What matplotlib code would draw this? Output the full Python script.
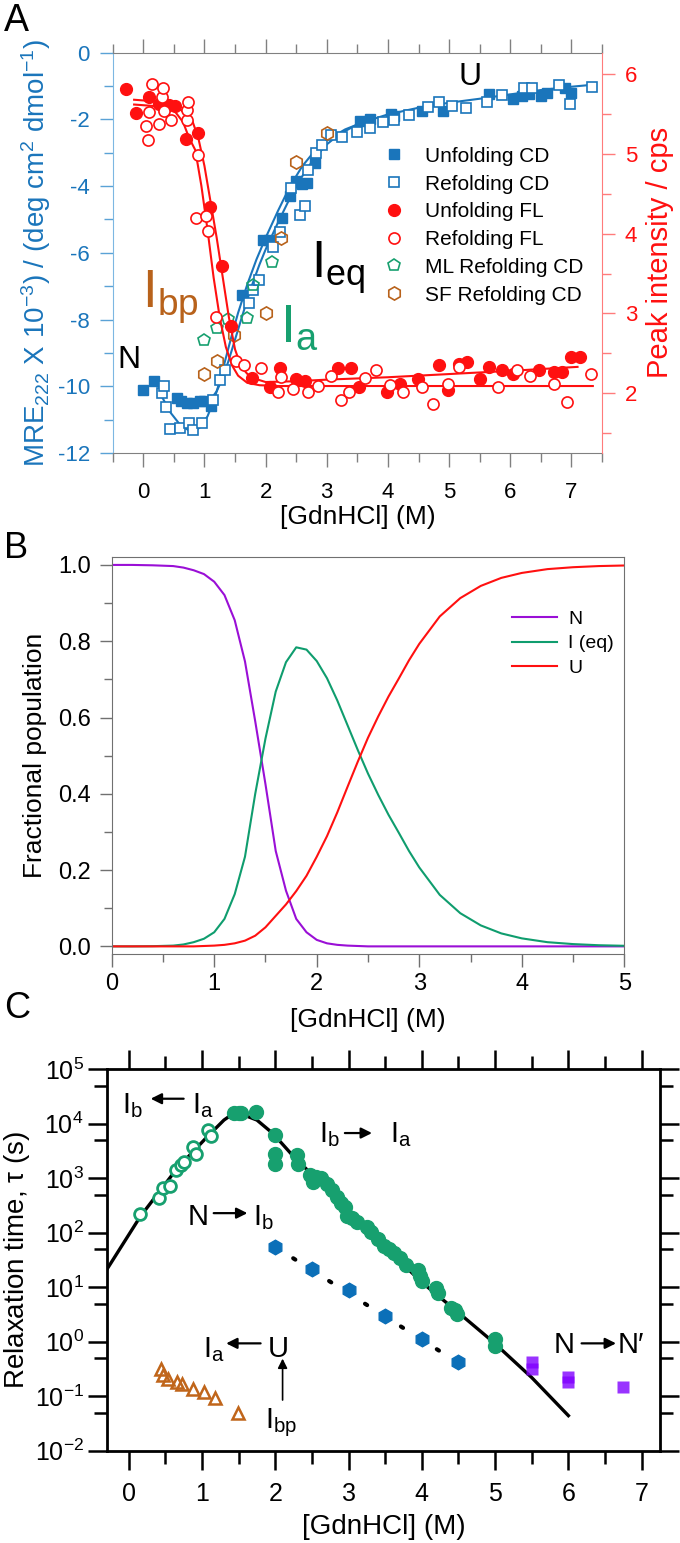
import matplotlib
matplotlib.use('Agg')
import matplotlib.pyplot as plt
from matplotlib.ticker import MultipleLocator, LogLocator, NullFormatter

plt.rcParams['font.family'] = ['Liberation Sans', 'DejaVu Sans']
plt.rcParams['mathtext.fontset'] = 'custom'
plt.rcParams['mathtext.rm'] = 'Liberation Sans'
plt.rcParams['mathtext.it'] = 'Liberation Sans:italic'

BLUE = '#1a75bb'
RED = '#ff1010'
GREEN = '#17a06f'
BROWN = '#b8621b'
NARROW = ['Liberation Sans Narrow', 'Liberation Sans', 'DejaVu Sans']

# ---------------- panel A data ----------------
unf_cd_x = [0.0, 0.17, 0.55, 0.62, 0.72, 0.82, 0.92, 1.0, 1.1, 1.62, 1.95, 2.05, 2.26,
            2.4, 2.5, 2.6, 2.67, 2.8, 3.55, 3.7, 4.05, 4.1, 4.55, 4.9, 5.65, 6.05, 6.2,
            6.3, 6.5, 6.6, 6.9, 7.0]
unf_cd_y = [-10.1, -9.85, -10.35, -10.45, -10.5, -10.5, -10.45, -10.45, -10.6, -7.25,
            -5.6, -5.6, -4.95, -4.3, -3.85, -3.95, -3.9, -3.3, -2.05, -2.0, -1.85, -1.9,
            -1.75, -1.75, -1.25, -1.4, -1.3, -1.25, -1.3, -1.2, -1.05, -1.2]
ref_cd_x = [0.3, 0.34, 0.37, 0.44, 0.6, 0.74, 0.82, 0.96, 1.14, 1.26, 1.33, 1.73, 1.8,
            1.89, 2.12, 2.24, 2.41, 2.56, 2.65, 2.7, 2.83, 2.93, 3.07, 3.25, 3.5, 3.71,
            3.92, 4.1, 4.35, 4.66, 4.84, 5.05, 5.27, 5.62, 5.87, 6.22, 6.36, 6.79, 6.98,
            7.34]
ref_cd_y = [-10.2, -10.0, -10.63, -11.29, -11.25, -11.11, -11.31, -11.11, -10.41, -9.81,
            -9.51, -7.51, -7.11, -6.81, -5.81, -5.36, -4.06, -4.86, -4.61, -3.51, -3.01,
            -2.77, -2.47, -2.52, -2.37, -2.27, -2.07, -2.02, -1.87, -1.62, -1.47, -1.6,
            -1.67, -1.47, -1.27, -1.05, -1.07, -0.97, -1.55, -1.04]
ml_cd_x = [0.99, 1.2, 1.38, 1.69, 1.8, 2.1]
ml_cd_y = [-8.61, -8.26, -7.98, -7.96, -6.96, -6.26]
sf_cd_x = [1.0, 1.2, 1.48, 2.0, 2.25, 2.49, 3.0]
sf_cd_y = [-9.63, -9.23, -8.46, -7.81, -5.56, -3.28, -2.42]

unf_fl_x = [-0.29, -0.12, 0.1, 0.25, 0.42, 0.52, 0.7, 0.9, 1.09, 1.28, 1.44, 1.77, 2.07,
            2.23, 2.5, 2.65, 3.18, 3.39, 3.53, 3.99, 4.2, 4.49, 4.84, 4.98, 5.16, 5.29,
            5.51, 5.65, 5.87, 6.04, 6.47, 6.71, 6.85, 7.0, 7.14]
unf_fl_y = [5.82, 5.51, 5.71, 5.63, 5.62, 5.6, 5.19, 5.26, 4.34, 3.6, 2.84, 2.19, 2.08,
            2.31, 2.18, 2.15, 2.31, 2.31, 2.08, 2.01, 2.12, 2.18, 2.35, 2.04, 2.37, 2.39,
            2.18, 2.33, 2.29, 2.24, 2.29, 2.27, 2.27, 2.45, 2.46]
ref_fl_x = [0.04, 0.08, 0.1, 0.15, 0.26, 0.31, 0.32, 0.34, 0.46, 0.71, 0.72, 0.73, 0.9,
            0.87, 1.02, 1.05, 1.19, 1.52, 1.64, 1.92, 2.2, 2.25, 2.45, 2.7, 2.85, 3.07,
            3.24, 3.37, 3.62, 3.81, 4.03, 4.24, 4.56, 4.73, 4.98, 5.16, 5.8, 6.11, 6.33,
            6.71, 6.93, 7.32]
ref_fl_y = [5.35, 5.17, 5.53, 5.88, 5.37, 5.72, 5.83, 5.54, 5.42, 5.42, 5.55, 5.65, 4.99,
            4.2, 4.22, 4.03, 2.95, 2.41, 2.35, 2.31, 2.01, 2.2, 2.05, 2.01, 2.09, 2.22,
            1.91, 2.01, 2.19, 2.29, 2.1, 2.01, 2.08, 1.87, 2.12, 2.33, 2.08, 2.29, 2.22,
            2.12, 1.89, 2.24]

# fitted curves
fit_cd1_x = [0.3, 0.45, 0.6, 0.75, 0.85, 0.95, 1.05, 1.15, 1.25, 1.35, 1.45, 1.55, 1.7,
             1.85, 2.0, 2.2, 2.4, 2.6, 2.8, 3.0, 3.3, 3.6, 4.0, 4.5, 5.0, 5.5, 6.0, 6.5,
             7.0, 7.35]
fit_cd1_y = [-10.3, -10.8, -11.15, -11.33, -11.33, -11.2, -10.9, -10.45, -9.85, -9.15,
             -8.45, -7.8, -6.95, -6.2, -5.55, -4.75, -4.0, -3.4, -2.95, -2.62, -2.3,
             -2.08, -1.85, -1.65, -1.5, -1.38, -1.25, -1.12, -1.02, -0.96]
fit_cd2_x = [0.55, 0.8, 1.0, 1.1, 1.2, 1.3, 1.4, 1.5, 1.6, 1.7, 1.8, 1.9, 2.0, 2.2, 2.4,
             2.6, 2.8, 3.0, 3.2, 3.5]
fit_cd2_y = [-10.45, -10.5, -10.5, -10.4, -10.15, -9.75, -9.2, -8.6, -8.0, -7.4, -6.85,
             -6.35, -5.9, -5.1, -4.35, -3.7, -3.15, -2.75, -2.45, -2.15]
fit_fl1_x = [-0.15, 0.2, 0.5, 0.65, 0.75, 0.85, 0.95, 1.05, 1.15, 1.25, 1.35, 1.45, 1.55,
             1.7, 1.9, 2.2, 3.0, 4.0, 5.0, 6.0, 7.35]
fit_fl1_y = [5.62, 5.6, 5.55, 5.4, 5.2, 5.05, 4.6, 4.05, 3.45, 2.95, 2.58, 2.35, 2.22,
             2.13, 2.1, 2.09, 2.09, 2.09, 2.09, 2.09, 2.09]
fit_fl2_x = [-0.15, 0.2, 0.5, 0.7, 0.8, 0.9, 1.0, 1.1, 1.2, 1.3, 1.4, 1.5, 1.6, 1.75,
             2.0, 2.5, 3.0, 4.0, 5.0, 6.0, 7.1]
fit_fl2_y = [5.68, 5.66, 5.62, 5.5, 5.42, 5.2, 4.85, 4.4, 3.95, 3.45, 2.95, 2.55, 2.33,
             2.2, 2.14, 2.15, 2.17, 2.2, 2.24, 2.28, 2.33]

# ---------------- panel B data ----------------
pop_x = [0.0, 0.2, 0.4, 0.6, 0.7, 0.8, 0.9, 1.0, 1.1, 1.2, 1.3, 1.4, 1.5, 1.6, 1.7, 1.8,
         1.9, 2.0, 2.1, 2.2, 2.3, 2.4, 2.5, 2.6, 2.7, 2.8, 2.9, 3.0, 3.2, 3.4, 3.6, 3.8,
         4.0, 4.25, 4.5, 4.75, 5.0]
pop_N = [1.0, 1.0, 0.999, 0.997, 0.993, 0.986, 0.976, 0.956, 0.921, 0.855, 0.747, 0.59,
         0.425, 0.25, 0.146, 0.072, 0.037, 0.017, 0.008, 0.004, 0.002, 0.001, 0.0, 0.0,
         0.0, 0.0, 0.0, 0.0, 0.0, 0.0, 0.0, 0.0, 0.0, 0.0, 0.0, 0.0, 0.0]
pop_I = [0.0, 0.0, 0.0005, 0.002, 0.005, 0.011, 0.02, 0.037, 0.072, 0.137, 0.235, 0.4,
         0.545, 0.668, 0.745, 0.784, 0.778, 0.748, 0.703, 0.645, 0.58, 0.515, 0.453,
         0.397, 0.345, 0.298, 0.25, 0.207, 0.135, 0.087, 0.055, 0.034, 0.021, 0.011,
         0.006, 0.003, 0.0015]
pop_U = [0.0, 0.0, 0.0, 0.0, 0.0, 0.0, 0.001, 0.002, 0.004, 0.008, 0.015, 0.028, 0.05,
         0.08, 0.11, 0.145, 0.185, 0.235, 0.289, 0.351, 0.418, 0.484, 0.547, 0.603,
         0.655, 0.702, 0.75, 0.793, 0.865, 0.913, 0.945, 0.966, 0.979, 0.989, 0.994,
         0.997, 0.9985]

# ---------------- panel C data ----------------
ref_tau_x = [0.15, 0.41, 0.47, 0.56, 0.65, 0.72, 0.76, 0.88, 0.92, 1.08, 1.12]
ref_tau_y = [224, 427, 661, 708, 1413, 1778, 1995, 3802, 2818, 7586, 6026]
unf_tau_x = [1.44, 1.5, 1.53, 1.74, 1.99, 2.0, 2.0, 2.3, 2.31, 2.48, 2.52, 2.55, 2.62,
             2.7, 2.78, 2.84, 2.9, 2.95, 2.98, 3.05, 3.12, 3.25, 3.3, 3.4, 3.48, 3.55,
             3.62, 3.7, 3.78, 3.95, 3.98, 4.0, 4.2, 4.22, 4.4, 4.45, 4.48, 5.0, 5.0]
unf_tau_y = [15800, 15800, 15500, 16200, 6300, 2820, 1820, 2690, 1860, 1150, 850, 1050,
             1000, 790, 600, 450, 355, 300, 200, 190, 160, 126, 105, 76, 58, 50, 42, 35,
             26, 21, 16, 13, 9.5, 7.9, 4.2, 3.8, 3.2, 1.12, 0.83]
nib_x = [2.0, 2.5, 3.0, 3.5, 4.0, 4.5]
nib_y = [55, 22, 8.8, 3.0, 1.1, 0.42]
nn_x = [5.5, 5.5, 6.0, 6.0, 6.75]
nn_y = [0.42, 0.32, 0.23, 0.185, 0.15]
iau_x = [0.44, 0.47, 0.53, 0.66, 0.73, 0.88, 1.03, 1.18, 1.49]
iau_y = [0.31, 0.245, 0.21, 0.186, 0.17, 0.138, 0.12, 0.091, 0.05]
chev_x = [-0.3, 0.16, 0.66, 1.07, 1.3, 1.43, 1.57, 1.75, 1.97, 2.21, 2.66, 3.12, 3.53,
          4.02, 4.48, 4.97, 5.5, 6.0]
chev_y = [21, 200, 1510, 5750, 11700, 15500, 14500, 11700, 6600, 2880, 710, 170, 49,
          11.7, 3.6, 1.0, 0.22, 0.044]
nib_fit_x = [2.0, 4.45]
nib_fit_y = [55, 0.45]

fig = plt.figure(figsize=(6.8, 15.43), dpi=100)
W, H = 680.0, 1543.0


def box(l, t, r, b):
    return [l / W, 1 - b / H, (r - l) / W, (b - t) / H]


def narrow_ticks(ax):
    for lab in ax.get_xticklabels() + ax.get_yticklabels():
        lab.set_family(NARROW)


# ================= panel A =================
axA = fig.add_axes(box(112.7, 52.7, 602, 453))
axR = axA.twinx()
axA.set_xlim(-0.5, 7.5)
axA.set_ylim(-12, 0)
axR.set_ylim(1.25, 6.27)

axA.plot(fit_cd1_x, fit_cd1_y, color=BLUE, lw=1.5, zorder=2)
axA.plot(fit_cd2_x, fit_cd2_y, color=BLUE, lw=1.5, zorder=2)
h1, = axA.plot(unf_cd_x, unf_cd_y, 's', color=BLUE, ms=7.5, ls='none', zorder=3)
h2, = axA.plot(ref_cd_x, ref_cd_y, 's', mfc='white', mec=BLUE, mew=1.2, ms=7, ls='none', zorder=3)
h5, = axA.plot(ml_cd_x, ml_cd_y, 'p', mfc='none', mec=GREEN, mew=1.2, ms=9, ls='none', zorder=3)
h6, = axA.plot(sf_cd_x, sf_cd_y, 'h', mfc='none', mec=BROWN, mew=1.2, ms=9.5, ls='none', zorder=3)

axR.plot(fit_fl1_x, fit_fl1_y, color=RED, lw=1.5, zorder=2)
axR.plot(fit_fl2_x, fit_fl2_y, color=RED, lw=1.5, zorder=2)
h3, = axR.plot(unf_fl_x, unf_fl_y, 'o', color=RED, ms=8.5, ls='none', zorder=3)
h4, = axR.plot(ref_fl_x, ref_fl_y, 'o', mfc='white', mec=RED, mew=1.2, ms=8, ls='none', zorder=3)

axR.legend([h1, h2, h3, h4, h5, h6],
           ['Unfolding CD', 'Refolding CD', 'Unfolding FL', 'Refolding FL',
            'ML Refolding CD', 'SF Refolding CD'],
           loc='upper left', bbox_to_anchor=(0.554, 0.765), frameon=False, fontsize=15,
           handlelength=1.0, handletextpad=1.0, labelspacing=0.42, borderpad=0,
           borderaxespad=0, numpoints=1)

for s in ['top', 'bottom']:
    axA.spines[s].set_color('#808080')
axA.spines['left'].set_color('#7db7e2')
axA.spines['right'].set_visible(False)
for s in ['top', 'bottom', 'left']:
    axR.spines[s].set_visible(False)
axR.spines['right'].set_color('#ff7b7b')

axA.xaxis.set_major_locator(MultipleLocator(1))
axA.xaxis.set_minor_locator(MultipleLocator(0.5))
axA.yaxis.set_major_locator(MultipleLocator(2))
axA.yaxis.set_minor_locator(MultipleLocator(1))
axR.yaxis.set_major_locator(MultipleLocator(1))
axR.yaxis.set_minor_locator(MultipleLocator(0.5))
axA.tick_params(axis='x', which='both', direction='out', top=True, color='#808080',
                labelsize=16, pad=11)
axA.tick_params(axis='x', which='major', length=10, width=1)
axA.tick_params(axis='x', which='minor', length=6.5, width=1)
axA.tick_params(axis='y', which='both', direction='out', color='#5aa2d6',
                labelcolor=BLUE, labelsize=16, pad=7, width=1)
axA.tick_params(axis='y', which='major', length=9.5)
axA.tick_params(axis='y', which='minor', length=6.5)
axR.tick_params(axis='y', which='both', direction='out', color='#ff7b7b',
                labelcolor=RED, labelsize=16, pad=7, width=1)
axR.tick_params(axis='y', which='major', length=9.5)
axR.tick_params(axis='y', which='minor', length=6.5)
axA.set_yticks(range(-12, 1, 2))
axA.set_yticklabels([str(v) for v in range(-12, 1, 2)])

axA.set_xlabel('[GdnHCl] (M)', fontsize=19, labelpad=1)
axA.set_ylabel(r'MRE$_{222}$ X 10$^{-3}$) / (deg cm$^{2}$ dmol$^{-1}$)', color=BLUE,
               fontsize=20, labelpad=3)
axR.set_ylabel('Peak intensity / cps', color=RED, fontsize=21, labelpad=6)

axA.text(5.15, -0.96, 'U', fontsize=23, ha='left', va='baseline')
axA.text(-0.43, -9.45, 'N', fontsize=23, ha='left', va='baseline')
axA.text(2.74, -6.73, r'$\mathregular{I_{eq}}$', fontsize=37, ha='left', va='baseline')
axA.text(-0.02, -7.65, r'$\mathregular{I_{bp}}$', fontsize=38, color=BROWN, ha='left',
         va='baseline')
axA.text(2.23, -8.67, r'$\mathregular{I_{a}}$', fontsize=39, color=GREEN, ha='left',
         va='baseline')

# ================= panel B =================
axB = fig.add_axes(box(111.7, 557.3, 624.3, 954))
axB.plot(pop_x, pop_N, color='#9a0fd6', lw=1.5, label='N')
axB.plot(pop_x, pop_I, color='#0f9d6e', lw=1.5, label='I (eq)')
axB.plot(pop_x, pop_U, color=RED, lw=1.5, label='U')
axB.set_xlim(0, 5)
axB.set_ylim(-0.02, 1.02)
for s in axB.spines.values():
    s.set_color('#707070')
axB.xaxis.set_major_locator(MultipleLocator(1))
axB.xaxis.set_minor_locator(MultipleLocator(0.5))
axB.yaxis.set_major_locator(MultipleLocator(0.2))
axB.yaxis.set_minor_locator(MultipleLocator(0.1))
axB.tick_params(which='both', direction='out', color='#707070', labelsize=17, width=1)
axB.tick_params(which='major', length=9)
axB.tick_params(which='minor', length=6)
axB.tick_params(axis='x', pad=5)
axB.tick_params(axis='y', pad=6)
axB.yaxis.set_major_formatter(plt.FuncFormatter(lambda v, p: '%.1f' % v))
axB.set_xlabel('[GdnHCl] (M)', fontsize=19, labelpad=9)
axB.set_ylabel('Fractional population', fontsize=19, labelpad=8)
axB.legend(loc='upper left', bbox_to_anchor=(0.781, 0.866), frameon=False, fontsize=14,
           handlelength=2.3, handletextpad=0.6, labelspacing=0.35, borderpad=0,
           borderaxespad=0)

# ================= panel C =================
axC = fig.add_axes(box(106.7, 1069.3, 660, 1450.7))
axC.set_yscale('log')
axC.set_xlim(-0.3, 7.25)
axC.set_ylim(1e-2, 1e5)
axC.plot(chev_x, chev_y, color='black', lw=2.4, zorder=2)
axC.plot(nib_fit_x, nib_fit_y, color='black', lw=3, ls=(0, (0.6, 4.5)),
         dash_capstyle='round', zorder=2)
axC.plot(ref_tau_x, ref_tau_y, 'o', mfc='white', mec=GREEN, mew=2, ms=8.5, ls='none',
         zorder=3)
axC.plot(unf_tau_x, unf_tau_y, 'o', color=GREEN, ms=10, ls='none', zorder=3)
axC.plot(nib_x, nib_y, 'h', color='#0b6fb8', ms=10.5, ls='none', zorder=3)
axC.plot(nn_x, nn_y, 's', color='#8000ff', alpha=0.8, mec='none', ms=8.5, ls='none',
         zorder=3)
axC.plot(iau_x, iau_y, '^', mfc='none', mec='#c0651a', mew=1.8, ms=9, ls='none',
         zorder=3)

for s in axC.spines.values():
    s.set_linewidth(2)
axC.xaxis.set_major_locator(MultipleLocator(1))
axC.xaxis.set_minor_locator(MultipleLocator(0.5))
axC.yaxis.set_major_locator(LogLocator(base=10, numticks=10))
axC.yaxis.set_minor_locator(LogLocator(base=10, subs=[5], numticks=10))
axC.yaxis.set_minor_formatter(NullFormatter())
axC.tick_params(which='both', direction='out', top=True, right=True, width=1.8,
                labelsize=18)
axC.tick_params(which='major', length=13.5)
axC.tick_params(which='minor', length=9.5)
axC.tick_params(axis='x', pad=9)
axC.tick_params(axis='y', pad=3)
axC.set_xlabel('[GdnHCl] (M)', fontsize=20, labelpad=6)
axC.set_ylabel(r'Relaxation time, $\mathregular{\tau}$ (s)', fontsize=20, labelpad=2)

arrow = dict(arrowstyle='-|>', color='black', lw=1.6, mutation_scale=16,
             shrinkA=0, shrinkB=0)
fs = 21
axC.text(-0.09, 10 ** 4.2, r'$\mathregular{I_b}$', fontsize=fs, ha='left', va='baseline')
axC.annotate('', xy=(0.3, 10 ** 4.46), xytext=(0.75, 10 ** 4.46), arrowprops=arrow)
axC.text(0.87, 10 ** 4.2, r'$\mathregular{I_a}$', fontsize=fs, ha='left', va='baseline')

axC.text(2.6, 10 ** 3.67, r'$\mathregular{I_b}$', fontsize=fs, ha='left', va='baseline')
axC.annotate('', xy=(3.32, 10 ** 3.83), xytext=(2.95, 10 ** 3.83), arrowprops=arrow)
axC.text(3.57, 10 ** 3.67, r'$\mathregular{I_a}$', fontsize=fs, ha='left', va='baseline')

axC.text(0.8, 10 ** 2.14, 'N', fontsize=fs, ha='left', va='baseline')
axC.annotate('', xy=(1.62, 10 ** 2.36), xytext=(1.16, 10 ** 2.36), arrowprops=arrow)
axC.text(1.69, 10 ** 2.14, r'$\mathregular{I_b}$', fontsize=fs, ha='left', va='baseline')

axC.text(1.01, 10 ** -0.28, r'$\mathregular{I_a}$', fontsize=fs, ha='left', va='baseline')
axC.annotate('', xy=(1.33, 10 ** -0.03), xytext=(1.8, 10 ** -0.03), arrowprops=arrow)
axC.text(1.9, 10 ** -0.28, 'U', fontsize=fs, ha='left', va='baseline')
axC.annotate('', xy=(2.1, 10 ** -0.31), xytext=(2.1, 10 ** -1.07),
             arrowprops=dict(arrowstyle='-|>', color='black', lw=1.2, mutation_scale=14,
                             shrinkA=0, shrinkB=0))
axC.text(1.86, 10 ** -1.58, r'$\mathregular{I_{bp}}$', fontsize=fs, ha='left',
         va='baseline')

axC.text(5.8, 10 ** -0.21, 'N', fontsize=fs, ha='left', va='baseline')
axC.annotate('', xy=(6.65, 10 ** -0.03), xytext=(6.18, 10 ** -0.03), arrowprops=arrow)
axC.text(6.67, 10 ** -0.21, 'N\u2032', fontsize=fs, ha='left', va='baseline')

narrow_ticks(axB)
narrow_ticks(axC)

fig.text(16 / W, 1 - 21 / H, 'A', fontsize=27, ha='center', va='center')
fig.text(16 / W, 1 - 549 / H, 'B', fontsize=26, ha='center', va='center')
fig.text(17 / W, 1 - 1009 / H, 'C', fontsize=26, ha='center', va='center')

fig.savefig('out.png', dpi=100)
